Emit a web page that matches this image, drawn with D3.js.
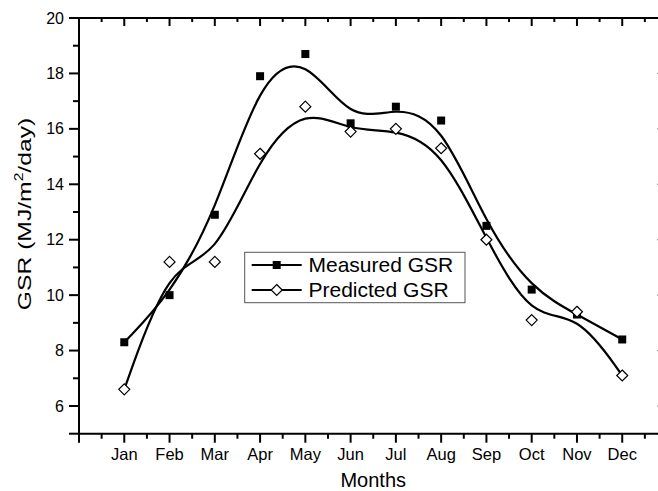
<!DOCTYPE html>
<html>
<head>
<meta charset="utf-8">
<script src="https://cdn.jsdelivr.net/npm/d3@7"></script>
<style>
  body { margin: 0; background: #fff; }
  svg text { font-family: "Liberation Sans", Arial, Helvetica, sans-serif; fill: #000; }
</style>
</head>
<body>
<div id="chart"></div>
<script>
// data
var months = ["Jan", "Feb", "Mar", "Apr", "May", "Jun", "Jul", "Aug", "Sep", "Oct", "Nov", "Dec"];
var measured = [8.3, 10.0, 12.9, 17.9, 18.7, 16.2, 16.8, 16.3, 12.5, 10.2, 9.3, 8.4];
var predicted = [6.6, 11.2, 11.2, 15.1, 16.8, 15.9, 16.0, 15.3, 12.0, 9.1, 9.4, 7.1];
var yTicks = [6, 8, 10, 12, 14, 16, 18, 20];
var seriesNames = ["Measured GSR", "Predicted GSR"];

var width = 658, height = 491;
var pLeft = 79, pRight = 667.5, pTop = 18, pBottom = 433.7;

var svg = d3.select("#chart").append("svg")
    .attr("width", width)
    .attr("height", height);

var x = d3.scaleLinear().domain([0, 13]).range([pLeft, pRight]);
var y = d3.scaleLinear().domain([5, 20]).range([pBottom, pTop]);

var majorX = d3.range(0, 14);             // month positions
var minorX = d3.range(0.5, 13, 1);
var majorY = d3.range(5, 21, 1).filter(v => v % 2 == 0 || v == 5);
var minorY = d3.range(7, 20, 2);

var axes = svg.append("g").attr("stroke", "#000").attr("stroke-width", 2);

// frame
axes.append("line").attr("x1", pLeft).attr("x2", pRight).attr("y1", pBottom).attr("y2", pBottom);
axes.append("line").attr("x1", pLeft).attr("x2", pRight).attr("y1", pTop).attr("y2", pTop);
axes.append("line").attr("x1", pLeft).attr("x2", pLeft).attr("y1", pTop).attr("y2", pBottom);
axes.append("line").attr("x1", pRight).attr("x2", pRight).attr("y1", pTop).attr("y2", pBottom);

// bottom ticks (outside) and top ticks (inside)
majorX.forEach(function(v){
    axes.append("line").attr("x1", x(v)).attr("x2", x(v)).attr("y1", pBottom).attr("y2", pBottom + 9);
    axes.append("line").attr("x1", x(v)).attr("x2", x(v)).attr("y1", pTop).attr("y2", pTop + 8);
});
minorX.forEach(function(v){
    axes.append("line").attr("x1", x(v)).attr("x2", x(v)).attr("y1", pBottom).attr("y2", pBottom + 5);
    axes.append("line").attr("x1", x(v)).attr("x2", x(v)).attr("y1", pTop).attr("y2", pTop + 4);
});
// left ticks (outside) and right ticks (inside, mostly cut off)
majorY.forEach(function(v){
    axes.append("line").attr("x1", pLeft - 10).attr("x2", pLeft).attr("y1", y(v)).attr("y2", y(v));
    axes.append("line").attr("x1", pRight - 10).attr("x2", pRight).attr("y1", y(v)).attr("y2", y(v))
        .attr("stroke-width", 1);
});
minorY.forEach(function(v){
    axes.append("line").attr("x1", pLeft - 6).attr("x2", pLeft).attr("y1", y(v)).attr("y2", y(v));
});

// tick labels
svg.append("g").selectAll("text").data(yTicks).enter().append("text")
    .attr("x", pLeft - 15)
    .attr("y", d => y(d))
    .attr("dy", "0.35em")
    .attr("text-anchor", "end")
    .style("font-size", "16px")
    .text(d => d);

svg.append("g").selectAll("text").data(months).enter().append("text")
    .attr("x", (d, i) => x(i + 1))
    .attr("y", pBottom + 26)
    .attr("text-anchor", "middle")
    .style("font-size", "16.5px")
    .text(d => d);

// axis titles
svg.append("text")
    .attr("x", (pLeft + pRight) / 2)
    .attr("y", 487)
    .attr("text-anchor", "middle")
    .style("font-size", "20px")
    .text("Months");

var yt = svg.append("text")
    .attr("transform", "translate(31,214) rotate(-90) scale(1.3,1)")
    .attr("text-anchor", "middle")
    .style("font-size", "19px");
yt.append("tspan").text("GSR (MJ/m");
yt.append("tspan").attr("dy", -8).style("font-size", "12px").text("2");
yt.append("tspan").attr("dy", 8).text("/day)");

// smoothed curves
var line = d3.line()
    .x((d, i) => x(i + 1))
    .y(d => y(d))
    .curve(d3.curveBasis);

[measured, predicted].forEach(function(s){
    svg.append("path")
        .attr("d", line(s))
        .attr("fill", "none")
        .attr("stroke", "#000")
        .attr("stroke-width", 2.2);
});

// markers
var sq = 8, dm = 5.5;
svg.append("g").selectAll("rect").data(measured).enter().append("rect")
    .attr("x", (d, i) => x(i + 1) - sq / 2)
    .attr("y", d => y(d) - sq / 2)
    .attr("width", sq).attr("height", sq)
    .attr("fill", "#000");

function diamond(cx, cy) {
    return "M" + cx + "," + (cy - dm) + "L" + (cx + dm) + "," + cy + "L" + cx + "," + (cy + dm) + "L" + (cx - dm) + "," + cy + "Z";
}
svg.append("g").selectAll("path").data(predicted).enter().append("path")
    .attr("d", (d, i) => diamond(x(i + 1), y(d)))
    .attr("fill", "#fff")
    .attr("stroke", "#000")
    .attr("stroke-width", 1.2);

// legend
var lg = svg.append("g");
lg.append("rect")
    .attr("x", 244.7).attr("y", 252.3)
    .attr("width", 220.3).attr("height", 50.4)
    .attr("fill", "#fff")
    .attr("stroke", "#555")
    .attr("stroke-width", 1);
seriesNames.forEach(function(name, i){
    var cy = 265 + i * 25;
    lg.append("line").attr("x1", 251.7).attr("x2", 301.7).attr("y1", cy).attr("y2", cy)
        .attr("stroke", "#000").attr("stroke-width", 2.2);
    if (i == 0) {
        lg.append("rect").attr("x", 276.7 - sq / 2).attr("y", cy - sq / 2)
            .attr("width", sq).attr("height", sq).attr("fill", "#000");
    } else {
        lg.append("path").attr("d", diamond(276.7, cy))
            .attr("fill", "#fff").attr("stroke", "#000").attr("stroke-width", 1.2);
    }
    lg.append("text")
        .attr("x", 308.5)
        .attr("y", cy)
        .attr("dy", "0.35em")
        .style("font-size", "21px")
        .text(name);
});
</script>
</body>
</html>
